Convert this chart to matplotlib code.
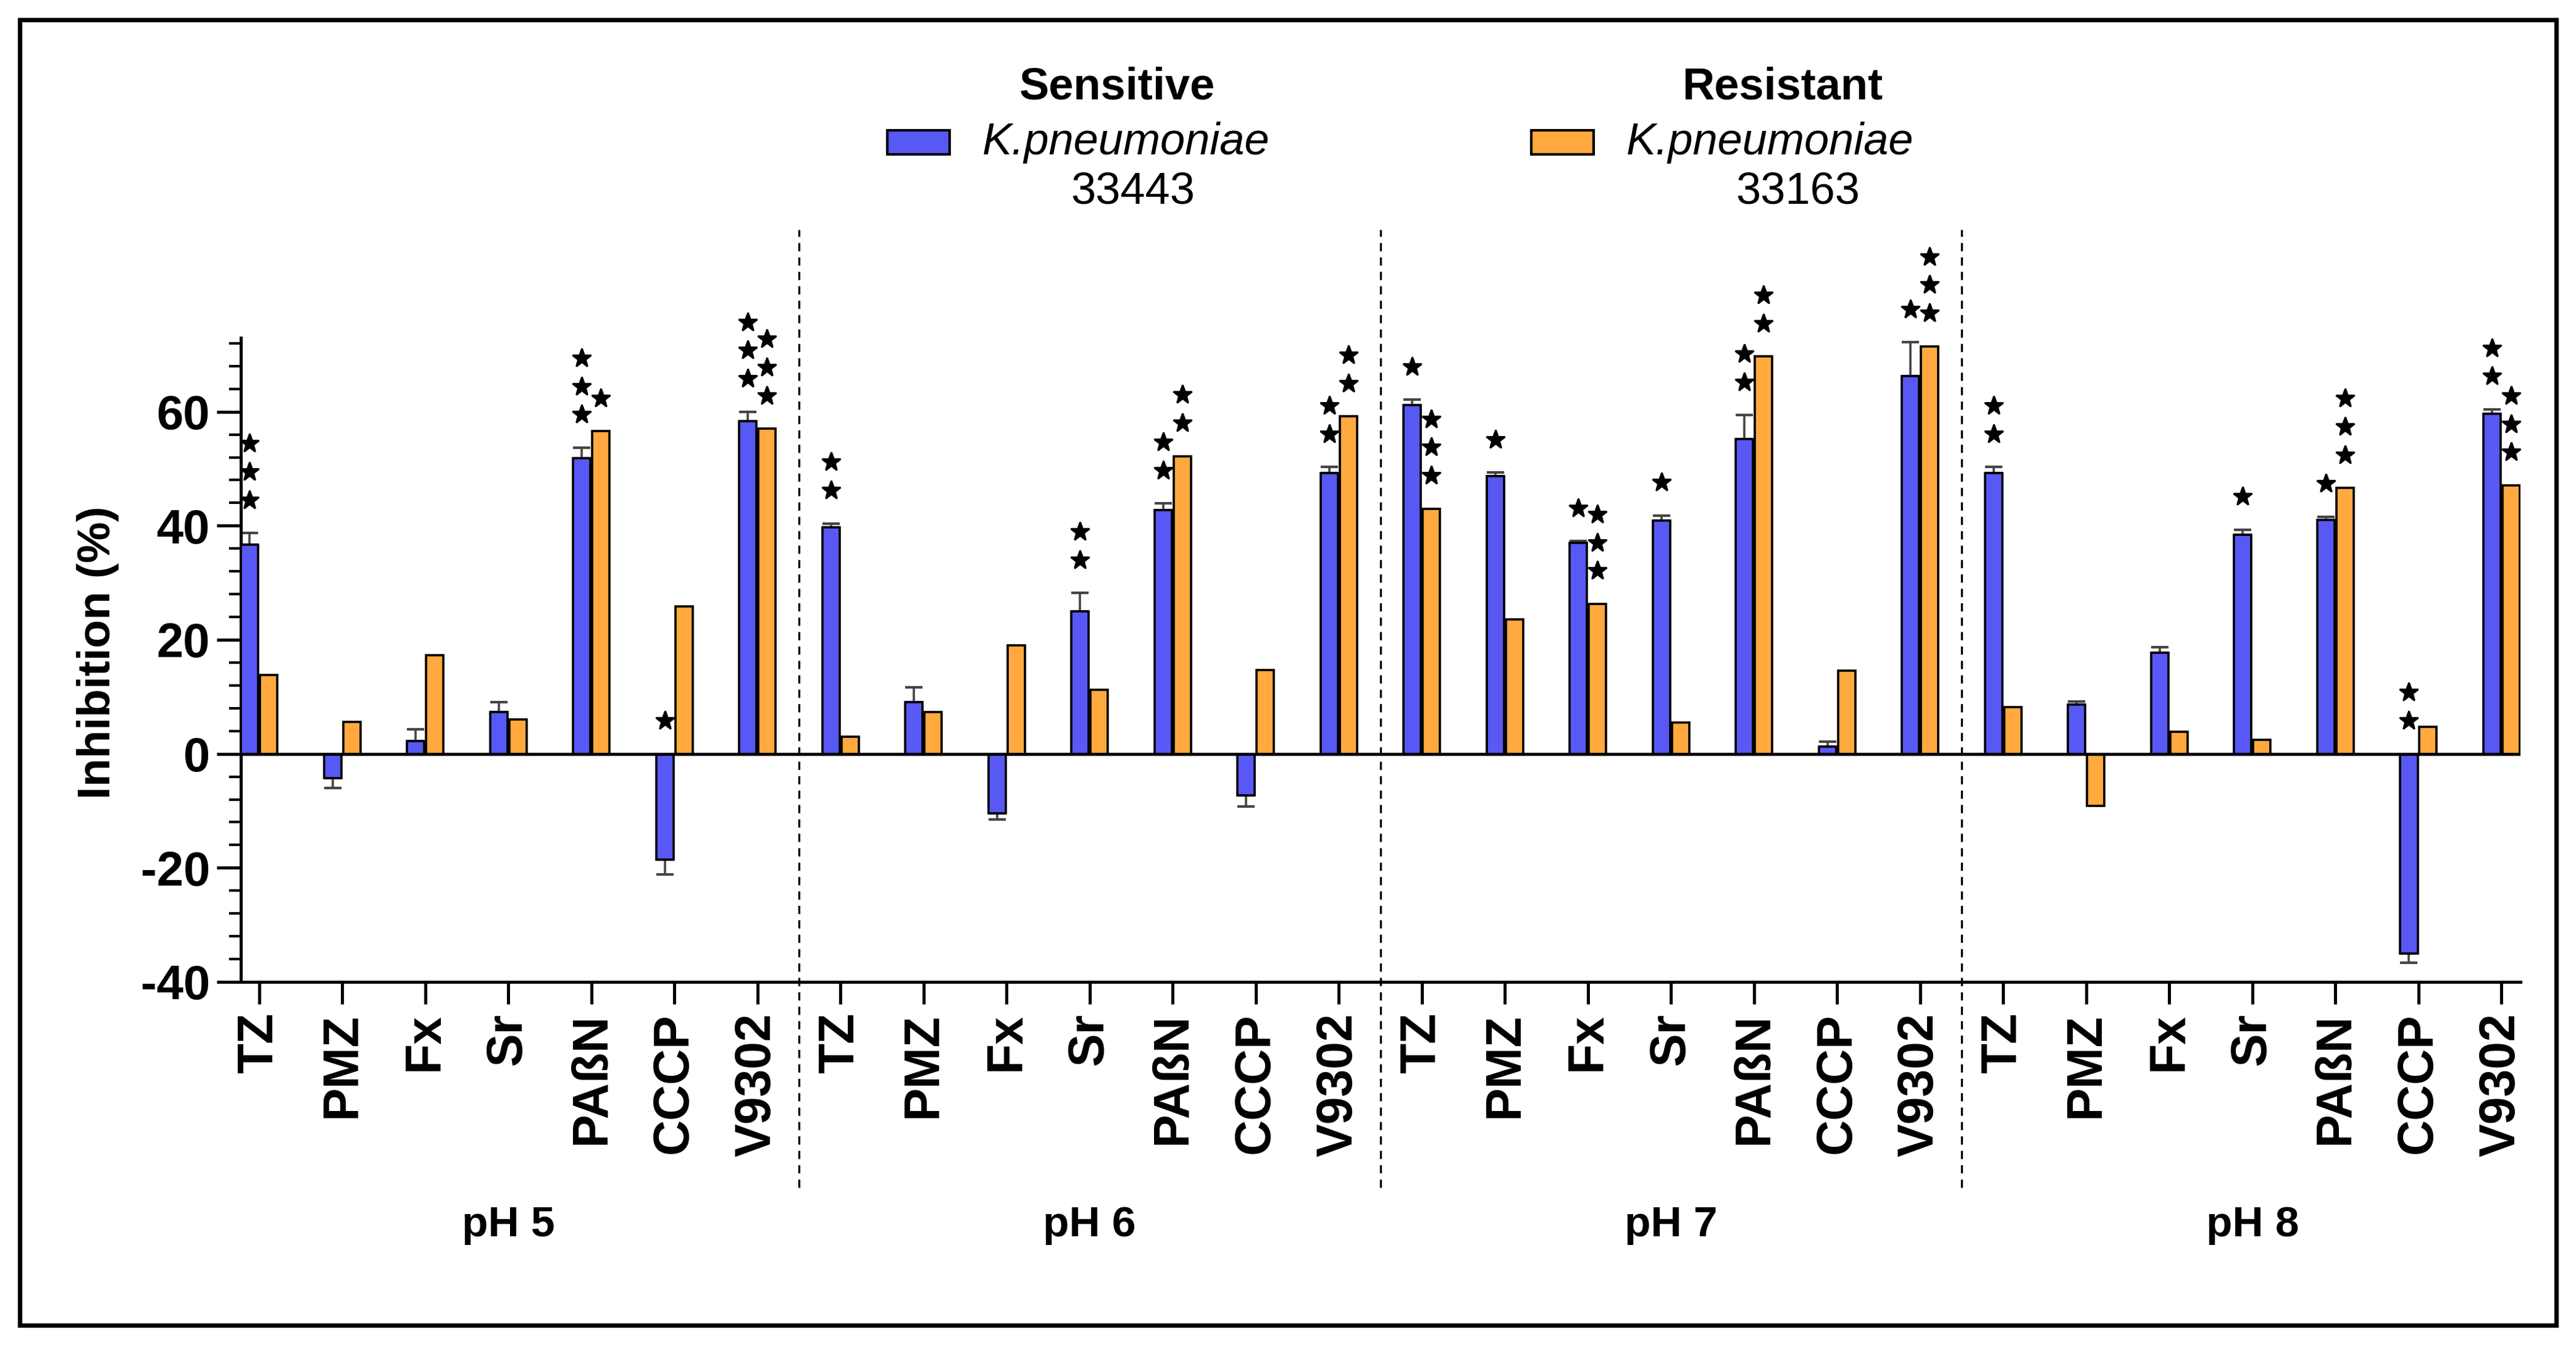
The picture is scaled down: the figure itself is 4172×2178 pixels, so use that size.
import numpy as np
import matplotlib
matplotlib.use("Agg")
import matplotlib.pyplot as plt
from matplotlib.patches import Rectangle
from matplotlib.lines import Line2D
from matplotlib.ticker import MultipleLocator
import matplotlib.transforms as mtransforms

plt.rcParams['font.family'] = ['Liberation Sans', 'DejaVu Sans']
plt.rcParams['axes.unicode_minus'] = False

# groups and agents
groups = ["pH 5", "pH 6", "pH 7", "pH 8"]
agents = ["TZ", "PMZ", "Fx", "Sr", "PA\u00dfN", "CCCP", "V9302"]

# inhibition (%), agent order repeated for each pH
sensitive = [36.7, -4.3, 2.2, 7.3, 51.8, -18.6, 58.3,
             39.7, 9.1, -10.4, 25.0, 42.7, -7.3, 49.2,
             61.2, 48.7, 37.0, 40.9, 55.2, 1.3, 66.3,
             49.2, 8.6, 17.7, 38.4, 41.0, -35.0, 59.6]
sensitive_err = [2.0, 1.7, 2.1, 1.8, 1.9, 2.6, 1.7,
                 0.7, 2.6, 1.1, 3.2, 1.2, 1.9, 1.1,
                 0.9, 0.6, 0.3, 0.9, 4.2, 0.8, 5.9,
                 1.1, 0.6, 1.0, 0.9, 0.6, 1.7, 0.8]
resistant = [13.8, 5.6, 17.3, 6.0, 56.6, 25.9, 57.0,
             3.0, 7.3, 19.0, 11.2, 52.2, 14.7, 59.2,
             43.0, 23.6, 26.3, 5.5, 69.7, 14.6, 71.5,
             8.2, -9.1, 3.9, 2.5, 46.6, 4.7, 47.1]

# number of significance stars above each bar
sensitive_stars = [3, 0, 0, 0, 3, 1, 3,
                   2, 0, 0, 2, 2, 0, 2,
                   1, 1, 1, 1, 2, 0, 1,
                   2, 0, 0, 1, 1, 2, 2]
resistant_stars = [0, 0, 0, 0, 1, 0, 3,
                   0, 0, 0, 0, 2, 0, 2,
                   3, 0, 3, 0, 2, 0, 3,
                   0, 0, 0, 0, 3, 0, 3]

BLUE = "#5858F4"
ORANGE = "#FFA93F"


def draw_stars(ax, xs, tops, counts):
    """Stack black stars above each bar (or above zero for negative bars)."""
    for x, top, n in zip(xs, tops, counts):
        base = max(top, 0) + 5.8
        for k in range(n):
            ax.plot(x, base + 4.95 * k, marker='*', color='black',
                    markersize=11.5, clip_on=False, zorder=5)


fig = plt.figure(figsize=(20.86, 10.89), dpi=200)
ax = fig.add_axes([0.0935, 0.270, 0.885, 0.479])

x = np.arange(len(sensitive))
w = 0.21
off = 0.115

ax.bar(x - off, sensitive, w, color=BLUE, edgecolor='black', linewidth=1.3, zorder=3)
ax.bar(x + off, resistant, w, color=ORANGE, edgecolor='black', linewidth=1.3, zorder=3)

# one-sided error bars on the sensitive strain
s = np.array(sensitive)
e = np.array(sensitive_err)
lower = np.where(s < 0, e, 0)
upper = np.where(s >= 0, e, 0)
ax.errorbar(x - off, s, yerr=[lower, upper], fmt='none', ecolor='#444444',
            elinewidth=1.3, capsize=5, capthick=1.5, zorder=2)

err_tops = np.where(s >= 0, s + e, 0)
draw_stars(ax, x - off, err_tops, sensitive_stars)
draw_stars(ax, x + off, resistant, resistant_stars)

ax.axhline(0, color='black', linewidth=1.8, zorder=4)

ax.set_xlim(-0.22, 27.23)
ax.set_ylim(-40, 73)
ax.set_yticks([-40, -20, 0, 20, 40, 60])
ax.yaxis.set_minor_locator(MultipleLocator(4))
ax.set_xticks(x)
ax.set_xticklabels(agents * len(groups), rotation=90, fontsize=29, fontweight='bold')
ax.tick_params(axis='y', which='major', labelsize=28, length=14, width=1.8, pad=4)
ax.tick_params(axis='y', which='minor', length=7, width=1.5)
ax.tick_params(axis='x', which='major', length=13, width=1.8, pad=5)
for lab in ax.get_yticklabels():
    lab.set_fontweight('bold')

ax.spines['top'].set_visible(False)
ax.spines['right'].set_visible(False)
ax.spines['left'].set_linewidth(1.8)
ax.spines['bottom'].set_linewidth(1.8)

fig.text(0.038, 0.515, "Inhibition (%)", rotation=90, ha='center', va='center',
         fontsize=27, fontweight='bold')

# dashed separators and pH labels
trans = mtransforms.blended_transform_factory(ax.transData, fig.transFigure)
for i in range(1, len(groups)):
    xs = i * len(agents) - 0.5
    fig.add_artist(Line2D([xs, xs], [0.117, 0.829], transform=trans, color='black',
                          linewidth=1.2, linestyle=(0, (4, 3))))
for i, g in enumerate(groups):
    fig.text(i * len(agents) + 3, 0.089, g, transform=trans, ha='center', va='center',
             fontsize=25, fontweight='bold')

# legend built by hand
for cx, px, col, head, num in [(0.4337, 0.3444, BLUE, "Sensitive", "33443"),
                               (0.692, 0.5944, ORANGE, "Resistant", "33163")]:
    fig.text(cx, 0.935, head, ha='center', va='center', fontsize=26, fontweight='bold')
    fig.add_artist(Rectangle((px, 0.885), 0.0242, 0.018, transform=fig.transFigure,
                             facecolor=col, edgecolor='black', linewidth=1.5))
    fig.text(px + 0.037, 0.894, "K.pneumoniae", ha='left', va='center',
             fontsize=26, fontstyle='italic')
    fig.text(cx + 0.006, 0.857, num, ha='center', va='center', fontsize=26)

# outer frame
fig.add_artist(Rectangle((0.0077, 0.0147), 0.9846, 0.9706, transform=fig.transFigure,
                         fill=False, edgecolor='black', linewidth=2.6))

fig.savefig("out.png", dpi=200)
plt.close(fig)
